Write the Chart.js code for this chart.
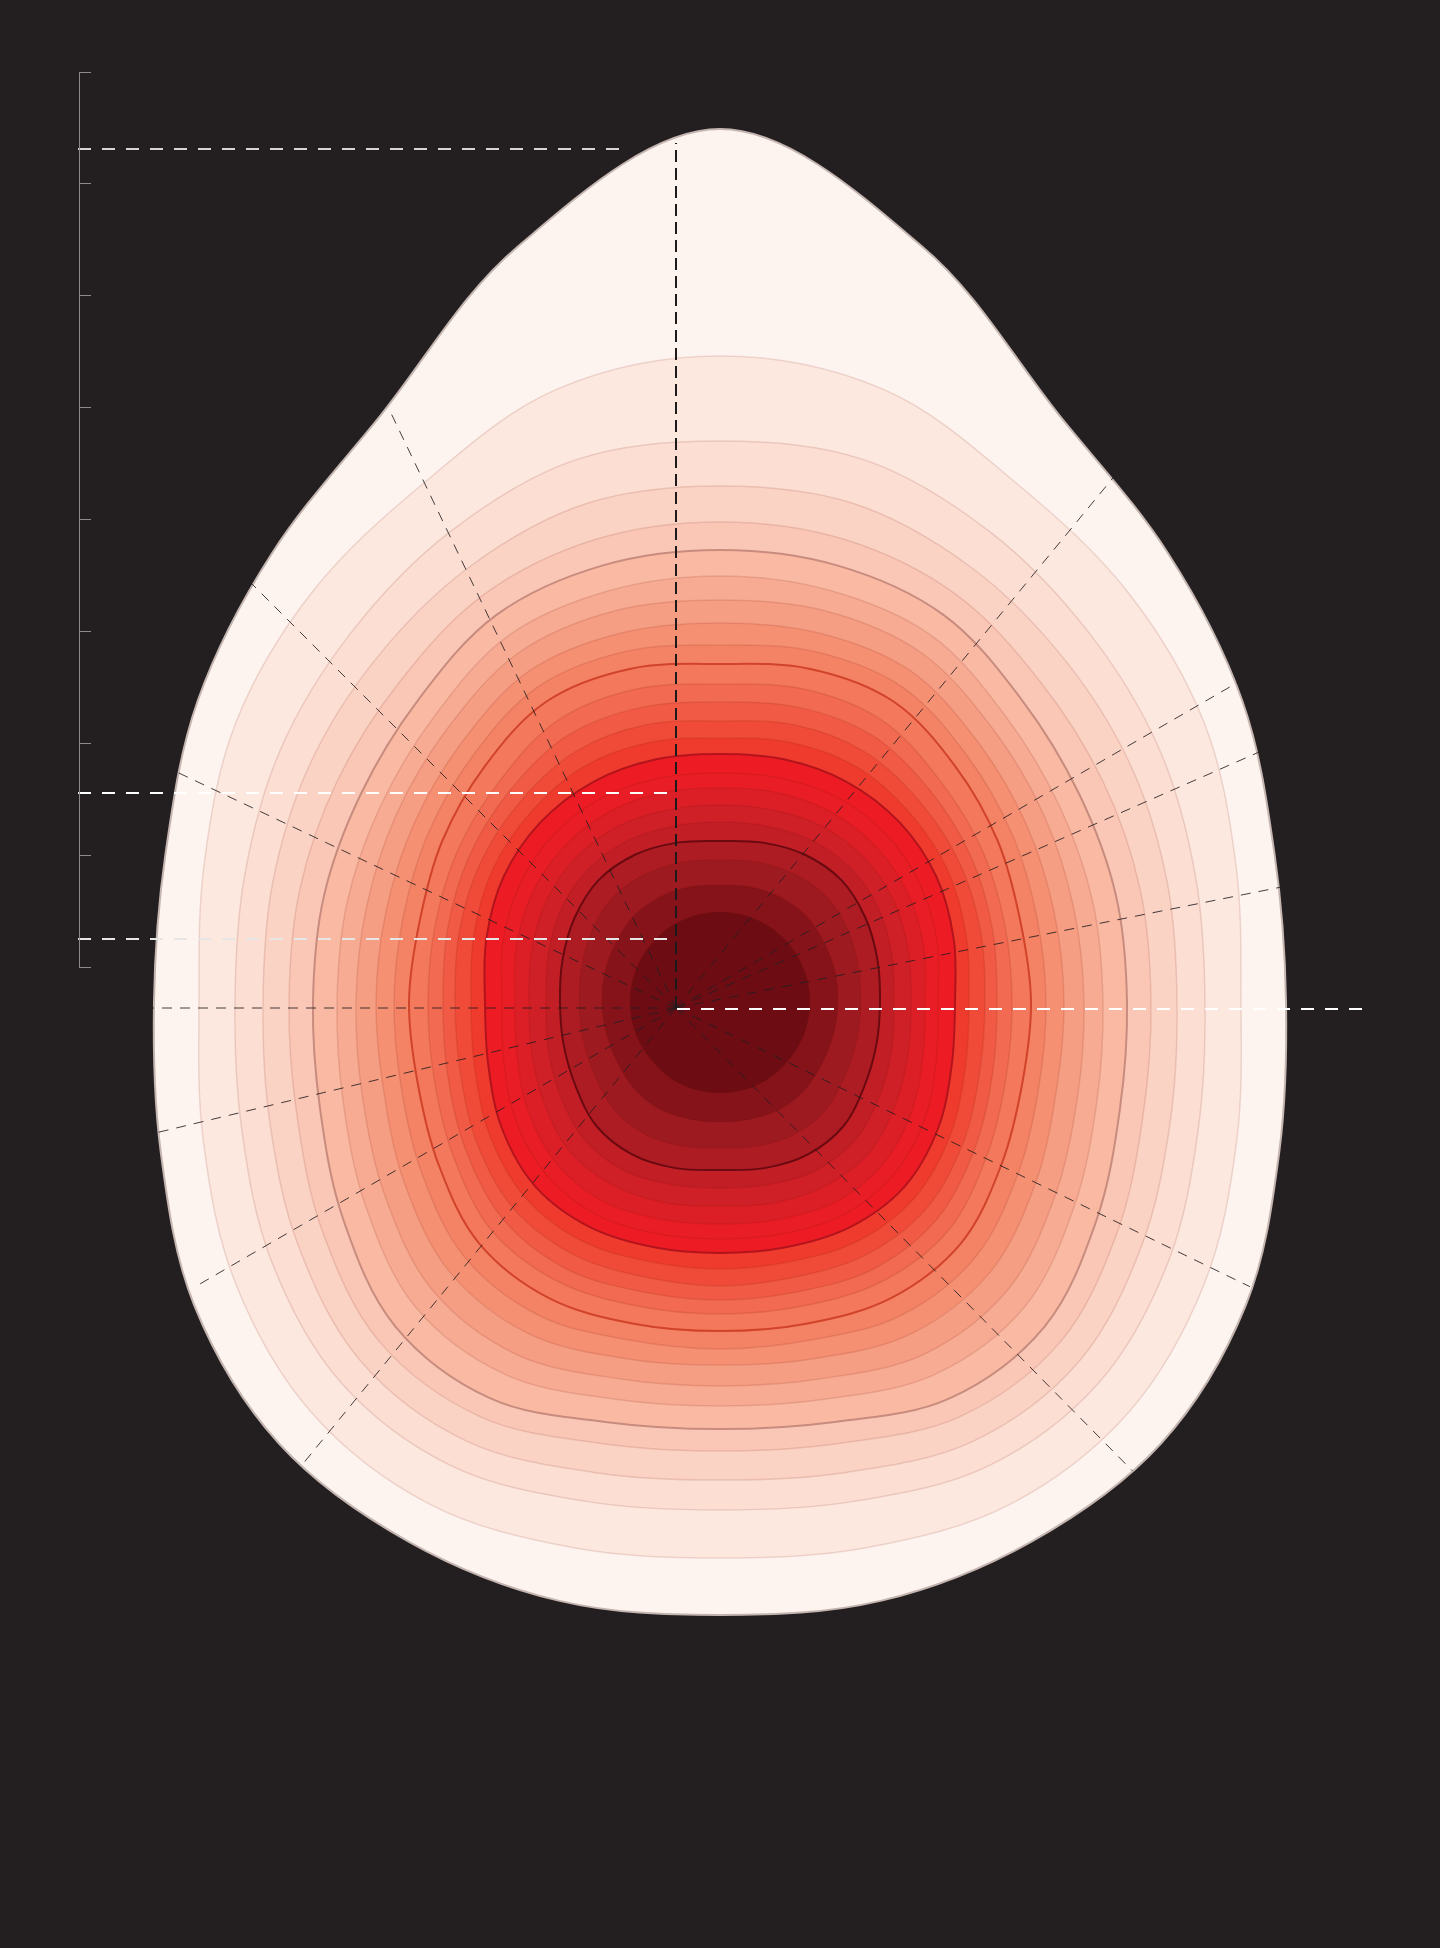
<!DOCTYPE html>
<html>
<head>
<meta charset="utf-8">
<title>Density contours</title>
<script src="https://cdn.jsdelivr.net/npm/chart.js@4.4.1/dist/chart.umd.min.js"></script>
<style>
  html, body { margin: 0; padding: 0; width: 1440px; height: 1948px; overflow: hidden; background: #231f20; }
  .layer { position: absolute; }
  #contourBox { left: -180px; top: 102px; width: 1800px; height: 1800px; }
  #lineBox { left: 0; top: 0; width: 1440px; height: 1948px; }
  #axisBox { left: 0; top: 66px; width: 91px; height: 907px; }
</style>
</head>
<body>
<div class="layer" id="contourBox"><canvas id="contours"></canvas></div>
<div class="layer" id="lineBox"><canvas id="lines"></canvas></div>
<div class="layer" id="axisBox"><canvas id="axis"></canvas></div>
<script>
// Contour radii, one row per level (outer -> inner),
// measured from the density peak at 0..180 deg (top, right side, bottom).
// The left half mirrors the right.
const spokeAngles = [0, 15, 30, 45, 60, 75, 90, 105, 120, 135, 150, 165, 180];

const r00 = [873, 782, 678, 634, 603, 574, 566, 579, 607, 624, 623, 620, 613];
const r01 = [646, 634, 597, 578, 559, 534, 521, 535, 560, 579, 580, 565, 556];
const r02 = [561, 561, 542, 522, 507, 492, 485, 495, 518, 537, 536, 517, 508];
const r03 = [516, 516, 502, 486, 474, 463, 457, 466, 487, 508, 507, 487, 478];
const r04 = [480, 479, 471, 453, 442, 435, 431, 438, 459, 481, 479, 457, 449];
const r05 = [452, 452, 447, 427, 415, 410, 407, 414, 435, 459, 458, 435, 427];
const r06 = [426, 426, 423, 404, 392, 386, 383, 390, 409, 431, 430, 411, 404];
const r07 = [402, 405, 403, 386, 374, 366, 364, 370, 387, 407, 407, 390, 384];
const r08 = [379, 382, 382, 366, 354, 346, 344, 348, 364, 382, 383, 369, 363];
const r09 = [357, 363, 364, 349, 337, 328, 326, 330, 344, 361, 362, 350, 347];
const r10 = [338, 345, 347, 333, 321, 311, 311, 313, 325, 341, 342, 333, 329];
const r11 = [318, 324, 325, 312, 303, 295, 292, 296, 308, 323, 323, 315, 312];
const r12 = [300, 305, 307, 298, 290, 282, 277, 282, 294, 307, 308, 300, 298];
const r13 = [281, 287, 289, 283, 277, 270, 265, 269, 281, 292, 292, 285, 284];
const r14 = [264, 269, 272, 268, 263, 255, 249, 254, 266, 276, 276, 269, 267];
const r15 = [248, 251, 254, 254, 250, 242, 235, 240, 252, 261, 260, 254, 251];
const r16 = [229, 232, 236, 236, 232, 225, 218, 224, 236, 245, 246, 240, 237];
const r17 = [214, 217, 220, 220, 217, 211, 205, 210, 221, 230, 231, 225, 222];
const r18 = [197, 199, 203, 204, 201, 195, 191, 195, 203, 212, 212, 208, 204];
const r19 = [180, 182, 186, 187, 184, 178, 174, 178, 185, 193, 194, 189, 186];
const r20 = [161, 165, 170, 172, 168, 163, 160, 162, 167, 175, 176, 172, 168];
const r21 = [142, 145, 148, 150, 147, 143, 141, 142, 145, 151, 152, 149, 146];
const r22 = [117, 119, 121, 122, 120, 119, 118, 118, 119, 122, 123, 121, 120];
const r23 = [90, 90, 90, 90, 90, 90, 90, 90, 90, 90, 91, 91, 91];

const levels = [r00, r01, r02, r03, r04, r05, r06, r07, r08, r09, r10, r11,
                r12, r13, r14, r15, r16, r17, r18, r19, r20, r21, r22, r23];

// Dashed rays from the mean point: angle (deg, counter-clockwise from +x) and length
const rayCentre = [-44, -6];
const rayAngles  = [11.3, 23.7, 30.1, 50.5, 115.6, 135, 154.7, 180, 193.5, 210.1, 230.7, 314.6, 334.1];
const rayLengths = [617, 638, 653, 690, 665, 604, 555, 526, 533, 552, 590, 650, 638];
const stemTop = 859;

// White dashed reference lines: level and extent
const refLevels = [853, 209, 63, -7];
const refStart  = [-642, -642, -642, -43];
const refEnd    = [-98, -53, -53, 645];

// Left scale ticks (no labels)
const axisTicks = [0, 1, 2, 3, 4, 5, 6, 7, 8];

// Styles
const fills = ['#fef4ef', '#fde8e0', '#fcded3', '#fbd3c5', '#fac7b6', '#f9b9a3',
               '#f7ab93', '#f69e83', '#f59073', '#f48366', '#f3785c', '#f26a51',
               '#f15b45', '#f04b39', '#ef3b2e', '#ed1c24', '#e81d25', '#dc1f27',
               '#cf1f27', '#c11e26', '#ae1c23', '#9d1a20', '#86131a', '#6e0c14'];
const keyEdges = { 0: '#c4b5b1', 5: '#c88c7e', 10: '#d1432a', 15: '#b3141c', 20: '#6a0a10' };
const plainEdge = 'rgba(120, 20, 10, 0.13)';
const whiteColours = ['#d6d6d6', '#ffffff', '#e6e6e6', '#ffffff'];

// ---- contour chart (radar, one filled loop per level) ----
const spokeLabels = spokeAngles.concat(spokeAngles.slice(1, 12).reverse().map(a => 360 - a));

function fullLoop(half) {
    return half.concat(half.slice(1, 12).reverse());
}

// inner levels first so the outer ones are painted underneath
let contourSets = [];
for (let i = levels.length - 1; i >= 0; i--) {
    let key = keyEdges[i];
    contourSets.push({
        label: 'level ' + i,
        data: fullLoop(levels[i]),
        backgroundColor: fills[i],
        borderColor: key || plainEdge,
        borderWidth: key ? 2 : 1.5,
        fill: true,
        pointRadius: 0,
        tension: 0.34
    });
}

new Chart(document.getElementById('contours'), {
    type: 'radar',
    data: { labels: spokeLabels, datasets: contourSets },
    options: {
        responsive: true,
        maintainAspectRatio: false,
        animation: false,
        layout: { padding: 0 },
        plugins: { legend: { display: false }, tooltip: { enabled: false } },
        scales: {
            r: {
                display: false,
                min: 0,
                max: 900,
                startAngle: 0,
                ticks: { display: false },
                pointLabels: { display: false },
                grid: { display: false },
                angleLines: { display: false }
            }
        }
    }
});

// ---- overlay lines (scatter) ----
let lineSets = [];

refLevels.forEach(function (y, i) {
    lineSets.push({
        data: [{ x: refStart[i], y: y }, { x: refEnd[i], y: y }],
        borderColor: whiteColours[i],
        borderWidth: 2,
        borderDash: [13, 11]
    });
});

lineSets.push({
    data: [{ x: rayCentre[0], y: rayCentre[1] }, { x: rayCentre[0], y: stemTop }],
    borderColor: '#1c1a1b',
    borderWidth: 2,
    borderDash: [12, 6]
});

rayAngles.forEach(function (a, i) {
    let rad = a * Math.PI / 180;
    lineSets.push({
        data: [
            { x: rayCentre[0], y: rayCentre[1] },
            { x: rayCentre[0] + rayLengths[i] * Math.cos(rad), y: rayCentre[1] + rayLengths[i] * Math.sin(rad) }
        ],
        borderColor: 'rgba(35, 31, 32, 0.85)',
        borderWidth: 1,
        borderDash: [10, 8]
    });
});

lineSets.forEach(function (d) {
    d.showLine = true;
    d.pointRadius = 0;
    d.fill = false;
});

new Chart(document.getElementById('lines'), {
    type: 'scatter',
    data: { datasets: lineSets },
    options: {
        responsive: true,
        maintainAspectRatio: false,
        animation: false,
        layout: { padding: 0 },
        plugins: { legend: { display: false }, tooltip: { enabled: false } },
        scales: {
            x: { type: 'linear', display: false, min: -720, max: 720 },
            y: { type: 'linear', display: false, min: -946, max: 1002 }
        }
    }
});

// ---- left scale ----
new Chart(document.getElementById('axis'), {
    type: 'scatter',
    data: { datasets: [] },
    options: {
        responsive: true,
        maintainAspectRatio: false,
        animation: false,
        layout: { padding: { top: 6, bottom: 6, left: 0, right: 0 } },
        plugins: { legend: { display: false }, tooltip: { enabled: false } },
        scales: {
            x: { type: 'linear', display: false, min: 0, max: 1 },
            y: {
                type: 'linear',
                position: 'right',
                min: axisTicks[0],
                max: axisTicks[axisTicks.length - 1],
                afterBuildTicks: function (scale) {
                    scale.ticks = axisTicks.map(v => ({ value: v }));
                },
                ticks: { display: false },
                grid: { drawOnChartArea: false, drawTicks: true, tickLength: 12, color: '#8a8a8a', lineWidth: 1 },
                border: { display: true, color: '#8a8a8a', width: 1 }
            }
        }
    }
});
</script>
</body>
</html>
